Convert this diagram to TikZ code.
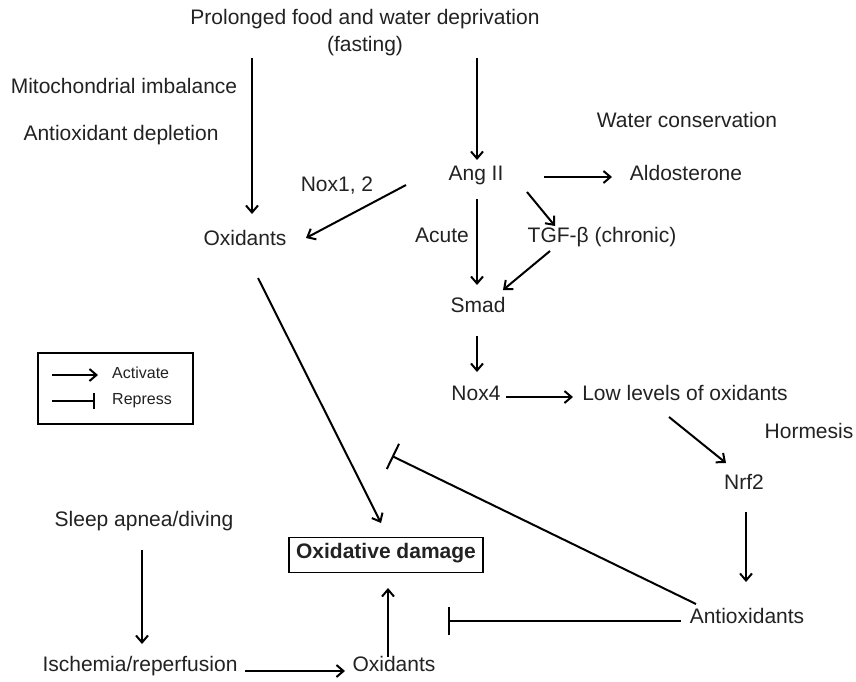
\documentclass[tikz,border=0pt]{standalone}
\usepackage{fontspec}
\setmainfont{Liberation Sans}
\usetikzlibrary{arrows.meta,calc}
\definecolor{txt}{HTML}{222222}
\tikzset{
  lbl/.style={inner sep=0pt, text height=0.72em, text depth=0pt, text=txt, font=\fontsize{21}{25}\selectfont},
  leglbl/.style={inner sep=0pt, text height=0.72em, text depth=0pt, text=txt, font=\fontsize{16}{19}\selectfont, anchor=west},
  act/.style={line width=2pt, -{Straight Barb[length=7pt,width=12pt]}},
  inh/.style={line width=2pt, -{Bar[width=28pt,line width=2pt]}},
  leginh/.style={line width=2pt, -{Bar[width=16pt,line width=2pt]}}
}
\begin{document}
\begin{tikzpicture}[x=1pt,y=-1pt]
\useasboundingbox[fill=white] (0,0) rectangle (856,681);
% nodes
\node[lbl] (fastA) at (365,21) {Prolonged food and water deprivation};
\node[lbl] (fastB) at (365,48) {(fasting)};
\node[lbl] (mito) at (124,90) {Mitochondrial imbalance};
\node[lbl] (antidep) at (121,137) {Antioxidant depletion};
\node[lbl] (water) at (687,124) {Water conservation};
\node[lbl] (ang) at (476,177) {Ang II};
\node[lbl] (aldo) at (686,177) {Aldosterone};
\node[lbl] (nox12) at (337,188) {Nox1, 2};
\node[lbl] (oxtop) at (245,242) {Oxidants};
\node[lbl] (acute) at (442,239) {Acute};
\node[lbl] (tgf) at (602,239) {TGF-β (chronic)};
\node[lbl] (smad) at (478,309) {Smad};
\node[lbl] (nox4) at (476,397) {Nox4};
\node[lbl] (low) at (685,397) {Low levels of oxidants};
\node[lbl] (horm) at (809,435) {Hormesis};
\node[lbl] (nrf2) at (744,486) {Nrf2};
\node[lbl, font=\fontsize{21}{25}\selectfont\bfseries, draw=black, line width=1.5pt, minimum width=194pt, minimum height=35pt, text height=0.72em] (dmg) at (386,555) {Oxidative damage};
\node[lbl] (antiox) at (747,620) {Antioxidants};
\node[lbl] (sleep) at (144,523) {Sleep apnea/diving};
\node[lbl] (isch) at (140,668) {Ischemia/reperfusion};
\node[lbl] (oxbot) at (394,668) {Oxidants};
% legend
\node[draw=black, line width=1.5pt, minimum width=155pt, minimum height=71pt, inner sep=0pt] (leg) at (115.5,388.5) {};
\node[leglbl] (legA) at (112,375) {Activate};
\node[leglbl] (legR) at (112,401) {Repress};
\draw[act] ($(legA.west)+(-60,0)$) -- ($(legA.west)+(-14,0)$);
\draw[leginh] ($(legR.west)+(-60,0)$) -- ($(legR.west)+(-17,0)$);
% connectors
\draw[act] ($(fastB)+(-113,10)$) -- ($(oxtop)+(7,-28)$);
\draw[act] ($(fastB)+(112,10)$) -- ($(ang)+(1,-17)$);
\draw[act] ($(ang)+(-70,8)$) -- ($(oxtop)+(61,-4)$);
\draw[act] ($(ang)+(68,0)$) -- ($(aldo)+(-74,0)$);
\draw[act] ($(ang)+(1,22)$) -- ($(smad)+(-1,-24)$);
\draw[act] ($(ang)+(51,15)$) -- ($(tgf)+(-47,-13)$);
\draw[act] ($(tgf)+(-52,12)$) -- ($(smad)+(25,-19)$);
\draw[act] ($(smad)+(-1,27)$) -- ($(nox4)+(1,-25)$);
\draw[act] ($(nox4)+(30,0)$) -- ($(low)+(-112,0)$);
\draw[act] ($(low)+(-16,20)$) -- ($(nrf2)+(-18,-23)$);
\draw[act] ($(nrf2)+(2,26)$) -- ($(antiox)+(-1,-38)$);
\draw[act] ($(oxtop)+(13,36)$) -- ($(dmg)+(-5,-32)$);
\draw[inh] ($(antiox)+(-51,-16)$) -- ($(dmg)+(6,-99)$);
\draw[inh] ($(antiox)+(-66,1)$) -- ($(dmg)+(62,66)$);
\draw[act] ($(oxbot)+(-6,-11)$) -- ($(dmg)+(2,33)$);
\draw[act] ($(sleep)+(-2,27)$) -- ($(isch)+(2,-24)$);
\draw[act] ($(isch)+(105,3)$) -- ($(oxbot)+(-49,3)$);
\end{tikzpicture}
\end{document}
